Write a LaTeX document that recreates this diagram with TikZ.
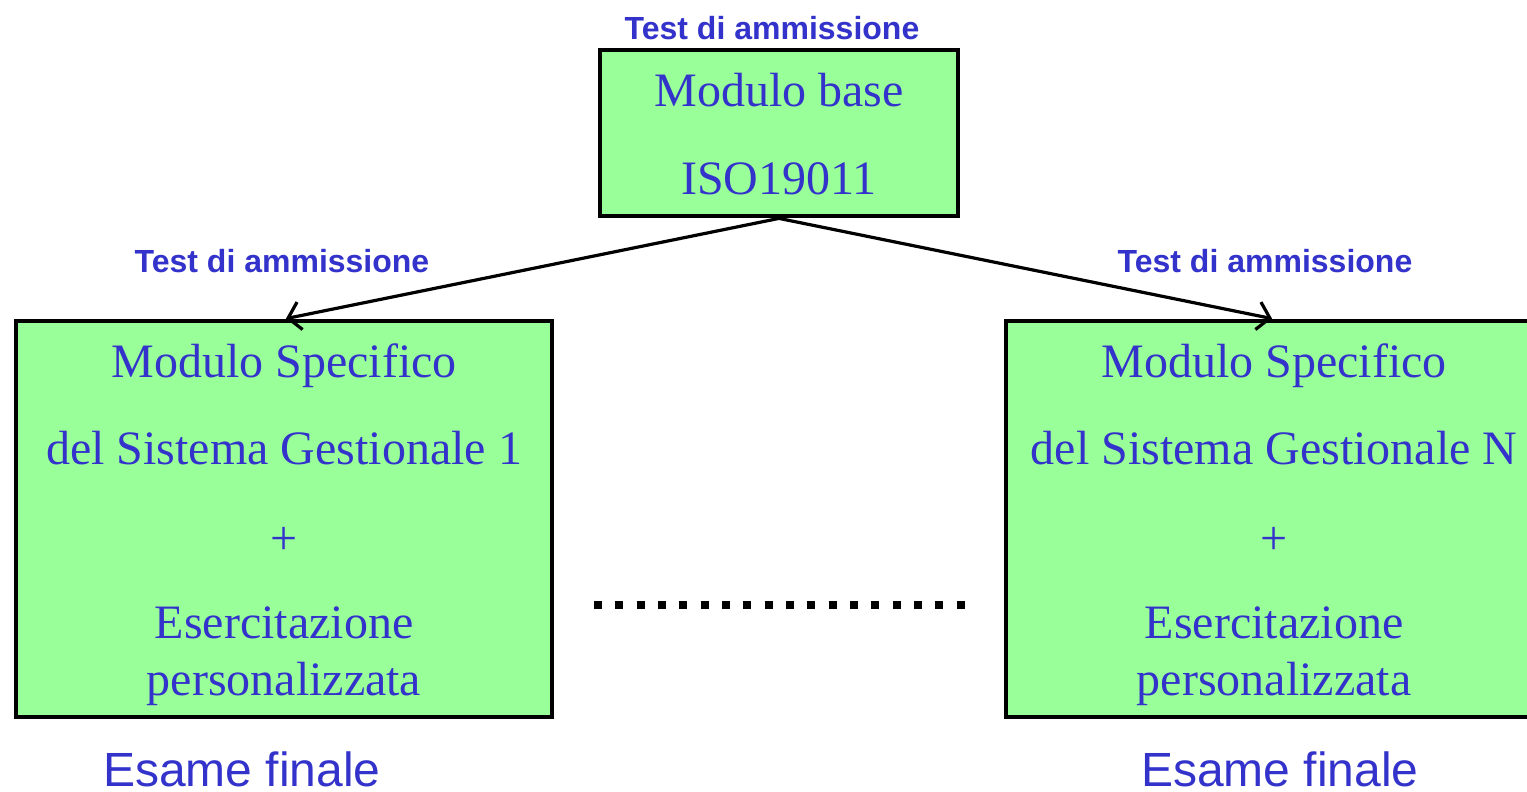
\documentclass[tikz,border=0pt]{standalone}
\usepackage{fontspec}
\setmainfont{Liberation Serif}
\setsansfont{Liberation Sans}
\usetikzlibrary{arrows.meta,calc}
\definecolor{txtblue}{HTML}{3333CC}
\definecolor{boxgreen}{HTML}{99FF99}
\begin{document}
\begin{tikzpicture}[x=0.5pt,y=-0.5pt,
  modbox/.style={draw=black,fill=boxgreen,line width=2.4pt,inner sep=0pt},
  bigtxt/.style={text=txtblue,font=\fontsize{24}{28}\selectfont,inner sep=0pt,anchor=base},
  lbl/.style={text=txtblue,font=\sffamily\bfseries\fontsize{16}{19}\selectfont,inner sep=0pt,anchor=base},
  finlbl/.style={text=txtblue,font=\sffamily\fontsize{24}{28}\selectfont,inner sep=0pt,anchor=base},
  conn/.style={draw=black,line width=1.6pt,-{Straight Barb[length=6pt,width=14pt,line width=1.6pt]}}
]
\useasboundingbox (0,0) rectangle (1527,792);
\clip (0,0) rectangle (1527,792);
\fill[white] (0,0) rectangle (1527,792);
% boxes
\node[modbox,minimum width=179pt,minimum height=83pt] (top) at (779,133) {};
\node[modbox,minimum width=268pt,minimum height=198pt] (lbox) at (284,519) {};
\node[modbox,minimum width=268pt,minimum height=198pt] (rbox) at (1274,519) {};
% texts in top box
\node[bigtxt] (t1) at (779,107) {Modulo base};
\node[bigtxt] (t2) at (779,194) {ISO19011};
% left box texts
\node[bigtxt] (l1) at (284,377) {Modulo Specifico};
\node[bigtxt] (l2) at (284,464) {del Sistema Gestionale 1};
\node[bigtxt] (l3) at (284,554) {+};
\node[bigtxt] (l4) at (284,638) {Esercitazione};
\node[bigtxt] (l5) at (284,695) {personalizzata};
% right box texts
\node[bigtxt] (r1) at (1274,377) {Modulo Specifico};
\node[bigtxt] (r2) at (1274,464) {del Sistema Gestionale N};
\node[bigtxt] (r3) at (1274,554) {+};
\node[bigtxt] (r4) at (1274,638) {Esercitazione};
\node[bigtxt] (r5) at (1274,695) {personalizzata};
% labels
\node[lbl] (la0) at (772,40) {Test di ammissione};
\node[lbl] (la1) at (282,272) {Test di ammissione};
\node[lbl] (la2) at (1265,272) {Test di ammissione};
\node[finlbl] (f1) at (242,786) {Esame finale};
\node[finlbl] (f2) at (1280,786) {Esame finale};
% connectors
\draw[conn] (top.south) -- ($(lbox.north)+(2,0)$);
\draw[conn] (top.south) -- ($(rbox.north)+(-2,0)$);
% dotted line
\coordinate (d0) at (594,605);
\coordinate (d1) at (966,605);
\draw[line width=4pt,dash pattern=on 4pt off 6.67pt] (d0) -- (d1);
\end{tikzpicture}
\end{document}
